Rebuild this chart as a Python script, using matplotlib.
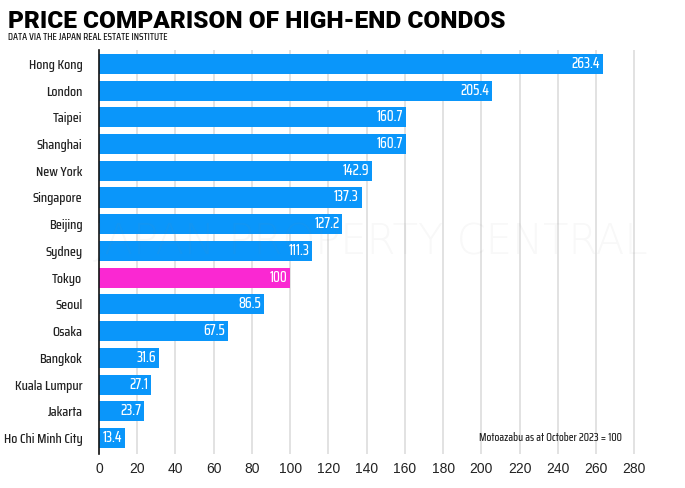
import matplotlib
matplotlib.use("Agg")
import matplotlib.pyplot as plt
from matplotlib.font_manager import FontProperties, findfont
from matplotlib.textpath import TextPath

cities = ["Hong Kong", "London", "Taipei", "Shanghai", "New York", "Singapore",
          "Beijing", "Sydney", "Tokyo", "Seoul", "Osaka", "Bangkok",
          "Kuala Lumpur", "Jakarta", "Ho Chi Minh City"]
values = [263.4, 205.4, 160.7, 160.7, 142.9, 137.3, 127.2, 111.3, 100,
          86.5, 67.5, 31.6, 27.1, 23.7, 13.4]
value_labels = ["263.4", "205.4", "160.7", "160.7", "142.9", "137.3", "127.2",
                "111.3", "100", "86.5", "67.5", "31.6", "27.1", "23.7", "13.4"]
highlight = "Tokyo"
xticks = list(range(0, 281, 20))

# pick the installed condensed face whose proportions best match the reference labels
candidates = ["Saira ExtraCondensed", "Saira Condensed", "Barlow Condensed", "PT Sans Narrow",
              "Roboto Condensed", "Asap Condensed", "Encode Sans Condensed", "Fira Sans Condensed",
              "IBM Plex Sans Condensed", "Open Sans Condensed", "Oswald", "Antonio"]
target_ratio = 8.0
best, best_err = "DejaVu Sans", 1e9
for name in candidates:
    try:
        fp = FontProperties(family=name, weight="medium")
        findfont(fp, fallback_to_default=False)
        cap = TextPath((0, 0), "H", size=10, prop=fp).get_extents().height
        wid = TextPath((0, 0), "Ho Chi Minh City", size=10, prop=fp).get_extents().width
        err = abs(wid / cap - target_ratio)
        if err < best_err:
            best, best_err = name, err
    except Exception:
        pass
narrow = [best, "DejaVu Sans"]

def size_for_width(text, px, family, weight="medium"):
    fp = FontProperties(family=family, weight=weight)
    w = TextPath((0, 0), text, size=10, prop=fp).get_extents().width * 100 / 72
    return 10 * px / w

blue = "#0A96FA"
pink = "#FA28D2"

fig = plt.figure(figsize=(6.85, 4.88), dpi=100)
ax = fig.add_axes([0.1445, 0.0697, 0.79, 0.8278])

colors = [pink if c == highlight else blue for c in cities]
ypos = list(range(len(cities)))
ax.barh(ypos, values, height=0.75, color=colors, zorder=2)
ax.set_ylim(len(cities) - 0.4, -0.52)
ax.set_xlim(0, 283)
ax.set_xticks(xticks)
ax.set_xticklabels([str(t) for t in xticks], fontsize=10, family="Liberation Sans", color="#222222")
ax.set_yticks(ypos)
ysize = size_for_width("Ho Chi Minh City", 78, best)
ax.set_yticklabels(cities, fontsize=ysize, family=narrow, fontweight="medium", color="#222222")
ax.tick_params(axis="both", length=0)
ax.tick_params(axis="y", pad=12)
ax.tick_params(axis="x", pad=6)
ax.grid(axis="x", color="#dddddd", linewidth=1.2, zorder=0)
for s in ["top", "right", "bottom"]:
    ax.spines[s].set_visible(False)
ax.spines["left"].set_color("#111111")
ax.spines["left"].set_linewidth(1.2)
ax.spines["left"].set_zorder(3)

vsize = size_for_width("13.4", 19, best)
for y, v, lab in zip(ypos, values, value_labels):
    ax.annotate(lab, (v, y), xytext=(-2, 0), textcoords="offset points",
                ha="right", va="center", color="white", fontsize=vsize,
                family=narrow, fontweight="medium", zorder=3)

nsize = size_for_width("Motoazabu as at October 2023 = 100", 141, best)
ax.text(0.967, ypos[-1], "Motoazabu as at October 2023 = 100", transform=ax.get_yaxis_transform(),
        ha="right", va="center", fontsize=nsize, family=narrow, fontweight="medium", color="#222222")

fig.text(0.54, 0.505, "JAPAN PROPERTY CENTRAL", ha="center", va="center", fontsize=30,
         family="DejaVu Sans", fontweight="light", color="#888888", alpha=0.06, zorder=10)

title = fig.text(0.011, 0.942, "PRICE COMPARISON OF HIGH-END CONDOS",
                 fontsize=size_for_width("PRICE COMPARISON OF HIGH-END CONDOS", 495, "Roboto", "black"),
                 family=["Roboto", "DejaVu Sans"], fontweight="black", color="black",
                 ha="left", va="baseline")
sub = fig.text(0.012, 0.918, "DATA VIA THE JAPAN REAL ESTATE INSTITUTE",
               fontsize=size_for_width("DATA VIA THE JAPAN REAL ESTATE INSTITUTE", 160, best),
               family=narrow, fontweight="medium", color="#111111", ha="left", va="baseline")

fig.savefig("out.png", dpi=100)
